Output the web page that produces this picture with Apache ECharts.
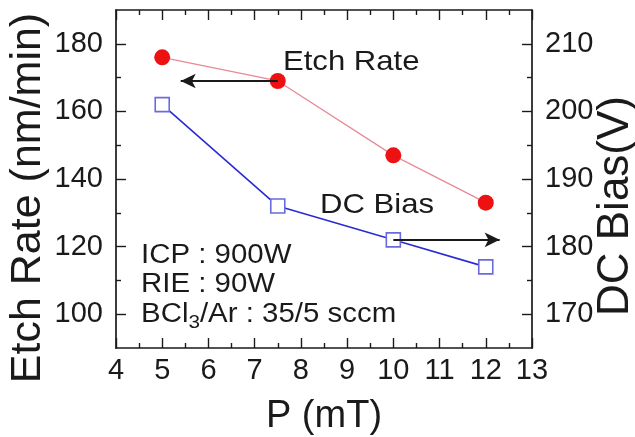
<!DOCTYPE html>
<html>
<head>
<meta charset="utf-8">
<script src="https://cdn.jsdelivr.net/npm/echarts@6/dist/echarts.min.js"></script>
<style>html,body{margin:0;padding:0;background:#fff}#c{width:635px;height:437px}</style>
</head>
<body>
<div id="c"></div>
<script>
// ---- data ----
const pressure = [5, 7.5, 10, 12];            // P (mT)
const etchRate = [176, 169, 147, 133];        // nm/min (left axis)
const dcBias = [201, 186, 181, 177];          // V (right axis)
const leftMajor = [100, 120, 140, 160, 180];
const leftMinor = [110, 130, 150, 170];
const rightMajor = [170, 180, 190, 200, 210];
const rightMinor = [175, 185, 195, 205];
const etchArrow = [[7.5, 169], [5.4, 169]];
const biasArrow = [[10, 181], [12.3, 181]];

const FONT = 'Liberation Sans, Arial, sans-serif';
const ink = '#1a1a1a';
const frame = {show: true, lineStyle: {color: ink, width: 1.7}};

const chart = echarts.init(document.getElementById('c'), null, {renderer: 'canvas'});
const xBase = {
  type: 'value', min: 4, max: 13, interval: 1,
  axisLine: frame,
  axisTick: {show: true, inside: true, length: 10, lineStyle: {color: ink, width: 1.4}},
  minorTick: {show: true, splitNumber: 2, length: 5, lineStyle: {color: ink, width: 1.4}},
  splitLine: {show: false}
};
function yAx(pos, min, max, major, minor, showLine, labels, name, gap, fs, shift) {
  return {
    type: 'value', position: pos, min: min, max: max, interval: 5,
    axisLine: showLine ? frame : {show: false},
    axisTick: {show: true, inside: true, length: major ? 10 : 5, customValues: major || minor,
               lineStyle: {color: ink, width: 1.4}},
    axisLabel: labels ? {show: true, customValues: major, fontSize: 29, fontFamily: FONT, color: ink, margin: 13}
                      : {show: false},
    splitLine: {show: false},
    name: name || '', nameLocation: 'middle', nameGap: gap || 0, nameMoveOverlap: false,
    nameTextStyle: {fontSize: fs || 40, fontFamily: FONT, color: ink, padding: [0, shift || 0, 0, 0]}
  };
}
chart.setOption({
  animation: false,
  backgroundColor: '#fff',
  grid: {left: 116, right: 103, top: 10, bottom: 89, containLabel: false, outerBoundsMode: 'none'},
  xAxis: [
    Object.assign({}, xBase, {position: 'bottom',
      axisLabel: {fontSize: 29, fontFamily: FONT, color: ink, margin: 8},
      name: 'P (mT)', nameLocation: 'middle', nameGap: 50,
      nameTextStyle: {fontSize: 38, fontFamily: FONT, color: ink}}),
    Object.assign({}, xBase, {position: 'top', axisLabel: {show: false}})
  ],
  yAxis: [
    yAx('left', 90, 190, leftMajor, null, true, true, 'Etch Rate (nm/min)', 66, 43, 38),
    yAx('left', 90, 190, null, leftMinor, false, false),
    yAx('right', 165, 215, rightMajor, null, true, true, 'DC Bias(V)', 62, 44, 54),
    yAx('right', 165, 215, null, rightMinor, false, false)
  ],
  series: [
    {
      type: 'line', xAxisIndex: 0, yAxisIndex: 0,
      data: pressure.map((p, i) => [p, etchRate[i]]),
      lineStyle: {color: '#e8899a', width: 1.3},
      symbol: 'circle', symbolSize: 16,
      itemStyle: {color: '#ee1111'},
      z: 3,
      markLine: {
        silent: true, symbol: ['none', 'arrow'], symbolSize: [11, 15],
        label: {show: false},
        lineStyle: {color: ink, width: 2, type: 'solid'},
        data: [[{coord: etchArrow[0]}, {coord: etchArrow[1]}]]
      }
    },
    {
      type: 'line', xAxisIndex: 0, yAxisIndex: 2,
      data: pressure.map((p, i) => [p, dcBias[i]]),
      lineStyle: {color: '#2b2bd6', width: 1.6},
      symbol: 'rect', symbolSize: 14,
      itemStyle: {color: '#ffffff', borderColor: '#6a6ae0', borderWidth: 1.6},
      z: 3,
      markLine: {
        silent: true, symbol: ['none', 'arrow'], symbolSize: [11, 15],
        label: {show: false},
        lineStyle: {color: ink, width: 2, type: 'solid'},
        data: [[{coord: biasArrow[0]}, {coord: biasArrow[1]}]]
      }
    }
  ],
  graphic: [
    {type: 'text', x: 283, y: 62, scaleX: 1.11, style: {text: 'Etch Rate', font: '28px ' + FONT, fill: ink, verticalAlign: 'middle'}},
    {type: 'text', x: 320, y: 205, scaleX: 1.11, style: {text: 'DC Bias', font: '28px ' + FONT, fill: ink, verticalAlign: 'middle'}},
    {type: 'text', x: 141, y: 256, scaleX: 1.09, style: {text: 'ICP : 900W', font: '27px ' + FONT, fill: ink, verticalAlign: 'middle'}},
    {type: 'text', x: 141, y: 285, scaleX: 1.09, style: {text: 'RIE : 90W', font: '27px ' + FONT, fill: ink, verticalAlign: 'middle'}},
    {type: 'text', x: 141, y: 315, scaleX: 1.09, style: {
      text: '{a|BCl}{s|3}{a|/Ar : 35/5 sccm}', verticalAlign: 'middle', fill: ink,
      rich: {
        a: {fontSize: 27, fontFamily: FONT, color: ink},
        s: {fontSize: 19, fontFamily: FONT, color: ink, padding: [16, 0, 0, 0]}
      }
    }}
  ]
});
</script>
</body>
</html>
